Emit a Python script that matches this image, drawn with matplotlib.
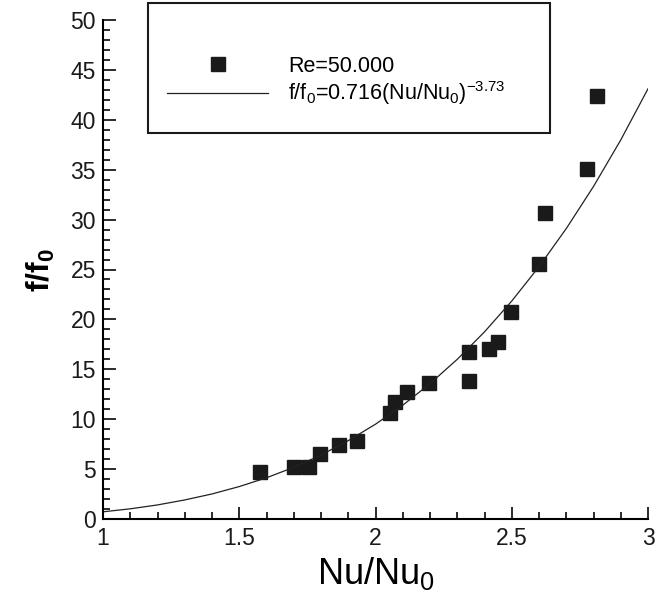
import matplotlib
matplotlib.use('Agg')
import matplotlib.pyplot as plt
from matplotlib.patches import Rectangle
from matplotlib.ticker import MultipleLocator

# Measured points, Re = 50 000
nu_ratio = [1.577, 1.700, 1.755, 1.795, 1.865, 1.933, 2.052, 2.071, 2.117, 2.198,
            2.344, 2.344, 2.415, 2.449, 2.498, 2.600, 2.621, 2.777, 2.814]
f_ratio = [4.7, 5.2, 5.2, 6.5, 7.4, 7.8, 10.6, 11.7, 12.7, 13.6,
           16.7, 13.8, 17.0, 17.7, 20.7, 25.6, 30.7, 35.1, 42.4]

# Correlation curve, every 0.1
fit_x = [1.0, 1.1, 1.2, 1.3, 1.4, 1.5, 1.6, 1.7, 1.8, 1.9, 2.0,
         2.1, 2.2, 2.3, 2.4, 2.5, 2.6, 2.7, 2.8, 2.9, 3.0]
fit_y = [0.72, 1.02, 1.41, 1.91, 2.51, 3.25, 4.13, 5.18, 6.41, 7.85, 9.50,
         11.40, 13.56, 16.00, 18.75, 21.84, 25.28, 29.10, 33.32, 37.98, 43.11]

x_ticks = [1, 1.5, 2, 2.5, 3]
x_tick_labels = ['1', '1.5', '2', '2.5', '3']

plt.rcParams.update({
    'font.family': ['Liberation Sans', 'DejaVu Sans'],
    'mathtext.fontset': 'custom',
    'mathtext.rm': 'Liberation Sans',
    'mathtext.it': 'Liberation Sans',
    'mathtext.bf': 'Liberation Sans:bold',
})

W, H = 656, 595
fig = plt.figure(figsize=(W/100, H/100), dpi=100)
ax = fig.add_axes([103/W, 1 - 519/H, (648 - 103)/W, (519 - 20)/H])

ax.plot(nu_ratio, f_ratio, 's', color='#1a1a1a', markersize=9.5, linestyle='none',
        label='Re=50.000')
ax.plot(fit_x, fit_y, '-', color='#222222', linewidth=0.9,
        label=r'f/f$_\mathregular{0}$=0.716(Nu/Nu$_\mathregular{0}$)$^\mathregular{-3.73}$')

ax.set_xlim(1, 3)
ax.set_ylim(0, 50)
ax.xaxis.set_minor_locator(MultipleLocator(0.1))
ax.yaxis.set_major_locator(MultipleLocator(5))
ax.yaxis.set_minor_locator(MultipleLocator(1))
ax.set_xticks(x_ticks)
ax.set_xticklabels(x_tick_labels)

ax.tick_params(which='both', direction='in', width=1.3, labelsize=16.5, colors='#1a1a1a')
ax.tick_params(which='major', length=9)
ax.tick_params(which='minor', length=5)
ax.tick_params(axis='x', pad=6)
ax.tick_params(axis='y', pad=5)

ax.spines['top'].set_visible(False)
ax.spines['right'].set_visible(False)
ax.spines['left'].set_linewidth(1.5)
ax.spines['bottom'].set_linewidth(1.5)

ax.set_xlabel(r'Nu/Nu$_\mathregular{0}$', fontsize=26, labelpad=3)
ax.set_ylabel(r'$\mathbf{f/f_0}$', fontsize=23, labelpad=10)

# legend box, drawn separately from the entries
fig.patches.append(Rectangle((148/W, 1 - 133/H), (550 - 148)/W, (133 - 3)/H,
                             transform=fig.transFigure, fill=False,
                             edgecolor='#1a1a1a', linewidth=1.5))
leg = ax.legend(loc='upper left', bbox_to_anchor=(167/W, 1 - 56/H),
                bbox_transform=fig.transFigure, fontsize=15.5, frameon=False,
                handlelength=4.7, handletextpad=0.93, borderpad=0,
                labelspacing=0.1, borderaxespad=0)

fig.savefig('out.png', dpi=100)
